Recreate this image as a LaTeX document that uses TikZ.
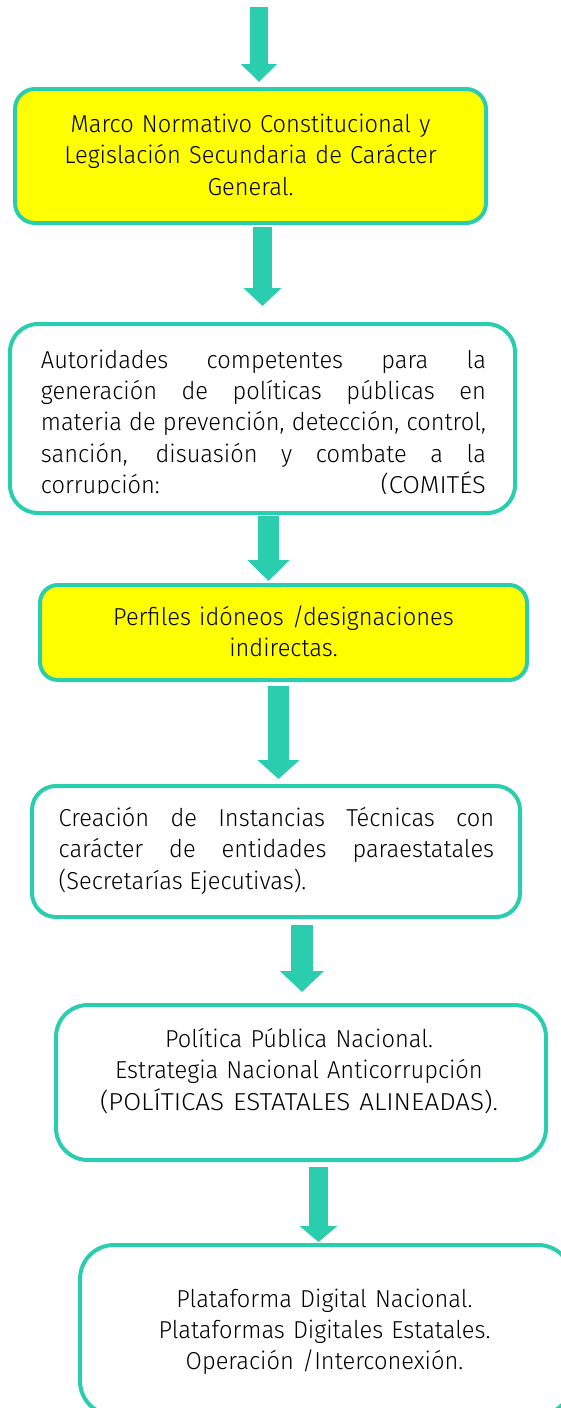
\documentclass[tikz,border=0pt]{standalone}
\usepackage{fontspec}
\usepackage{graphicx}
\setmainfont{Fira Sans Light}[FakeStretch=0.965]
\usetikzlibrary{arrows.meta}
\definecolor{teal2}{HTML}{2ACDAE}
\definecolor{yel}{HTML}{FFFF00}
\tikzset{
  box/.style={draw=teal2, line width=4pt, rectangle, inner sep=0pt},
  ybox/.style={box, fill=yel},
  txt/.style={inner sep=0pt, font=\fontsize{24.5}{31.3}\selectfont},
  blk/.style={draw=teal2, line width=#1},
}
\begin{document}
\begin{tikzpicture}[x=1pt,y=-1pt]
\useasboundingbox (0,0) rectangle (561,1408);
% boxes
\node[ybox, rounded corners=20, minimum width=471, minimum height=134] (b1) at (250.5,156) {};
\node[box, rounded corners=28, minimum width=505, minimum height=189] (b2) at (262.5,418.5) {};
\node[ybox, rounded corners=18, minimum width=487, minimum height=95] (b3) at (283.5,632.5) {};
\node[box, rounded corners=24, minimum width=488, minimum height=131] (b4) at (276,851.5) {};
\node[box, rounded corners=32, minimum width=490, minimum height=155] (b5) at (301,1082.5) {};
\node[box, rounded corners=34, minimum width=492, minimum height=170] (b6) at (326,1330) {};
% texts
\node[txt, anchor=base, text width=460, align=center] (t1) at (250.5,132.5)
  {Marco Normativo Constitucional y\\Legislación Secundaria de Carácter\\General.};
\begin{scope}
\clip (0,330) rectangle (561,493);
\node[txt, anchor=base west, text width=445, align=justify] (t2) at (40.7,368.3)
  {Autoridades competentes para la\linebreak generación de políticas públicas en\linebreak materia de prevención, detección, control,\linebreak sanción, disuasión y combate a la\linebreak corrupción:\hfill\scalebox{1.08}[1]{(COMITÉS}};
\end{scope}
\node[txt, anchor=base, text width=470, align=center] (t3) at (283.5,625)
  {Perfiles idóneos /designaciones\\indirectas.};
\node[txt, anchor=base west, text width=435.5, align=justify] (t4) at (58.5,826.5)
  {Creación de Instancias Técnicas con\linebreak carácter de entidades paraestatales\linebreak (Secretarías Ejecutivas).};
\node[txt, anchor=base, text width=480, align=center] (t5) at (299,1047.5)
  {Política Pública Nacional.\\Estrategia Nacional Anticorrupción\\\scalebox{1.1}[1]{(POLÍTICAS ESTATALES ALINEADAS).}};
\node[txt, anchor=base, text width=480, align=center] (t6) at (324.5,1307)
  {Plataforma Digital Nacional.\\Plataformas Digitales Estatales.\\Operación /Interconexión.};
% arrows
\coordinate (a0s) at (259,7);      \coordinate (a0e) at (259,82);
\coordinate (a1s) at (262.5,227);  \coordinate (a1e) at (262.5,306);
\coordinate (a2s) at (268.5,516);  \coordinate (a2e) at (268.5,581);
\coordinate (a3s) at (278.5,686);  \coordinate (a3e) at (278.5,779);
\coordinate (a4s) at (302,925);    \coordinate (a4e) at (302,992);
\coordinate (a5s) at (318.5,1167); \coordinate (a5e) at (318.5,1242);
\draw[blk=18pt, -{Triangle[width=35pt,length=18pt]}] (a0s) -- (a0e);
\draw[blk=19pt, -{Triangle[width=37pt,length=18pt]}] (a1s) -- (a1e);
\draw[blk=21pt, -{Triangle[width=41pt,length=21pt]}] (a2s) -- (a2e);
\draw[blk=21pt, -{Triangle[width=41pt,length=19pt]}] (a3s) -- (a3e);
\draw[blk=22pt, -{Triangle[width=43pt,length=21pt]}] (a4s) -- (a4e);
\draw[blk=19pt, -{Triangle[width=37pt,length=16pt]}] (a5s) -- (a5e);
\end{tikzpicture}
\end{document}
